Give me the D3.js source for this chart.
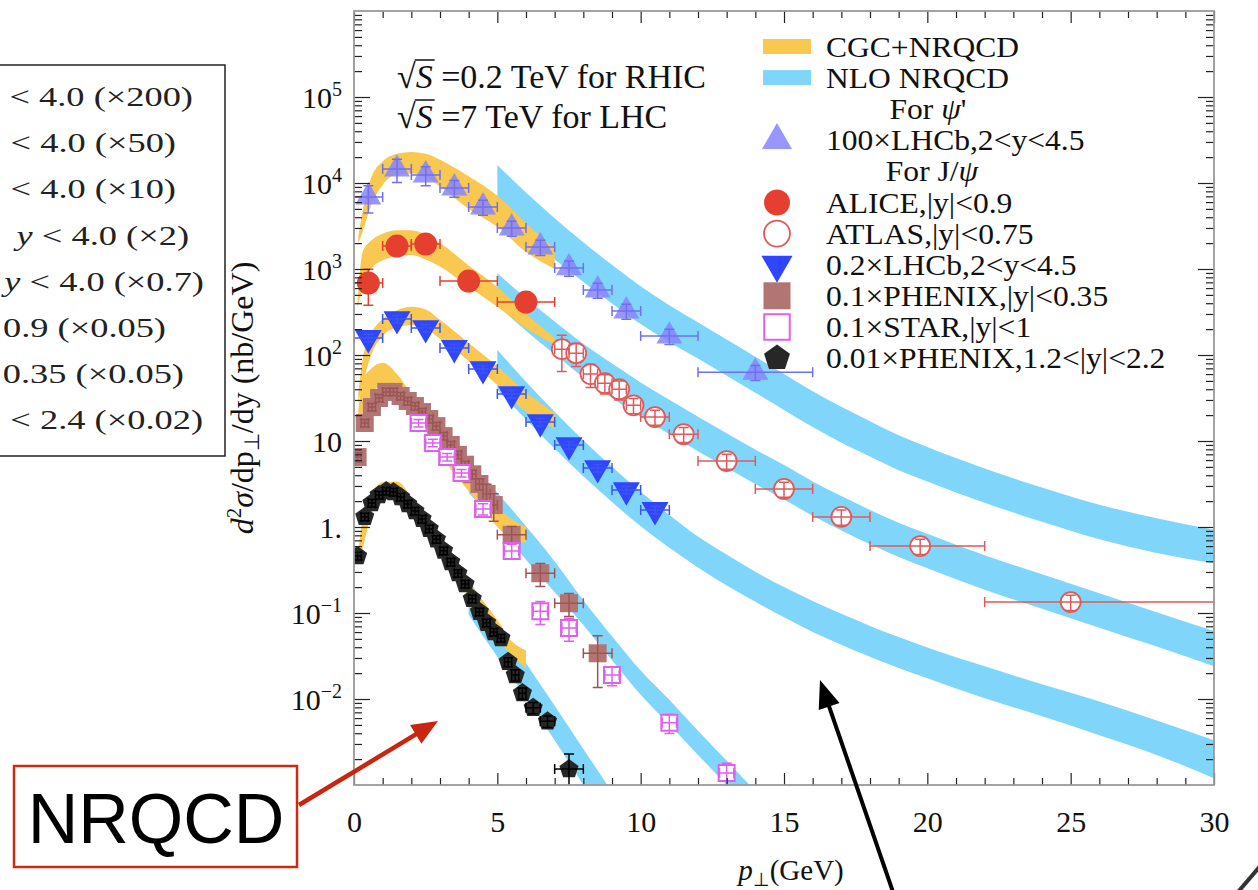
<!DOCTYPE html>
<html>
<head>
<meta charset="utf-8">
<script src="https://cdn.jsdelivr.net/npm/d3@7"></script>
<style>
  body { margin: 0; background: #fff; }
  svg { display: block; font-family: "Liberation Serif", "Times New Roman", serif; }
</style>
</head>
<body>
<div id="chart"></div>
<script>
// ---------- values ----------

// CGC+NRQCD bands (low pT): pT nodes, lower and upper edge
const cgcPsiPt = [0.15, 0.3, 0.6, 1, 1.5, 2, 2.5, 3, 4, 5, 6, 7];
const cgcPsiLo = [2000, 2700, 5500, 9500, 12600, 12900, 11700, 9100, 5000, 3100, 1580, 1000];
const cgcPsiHi = [2400, 4700, 11500, 17800, 21900, 22900, 21900, 18600, 12000, 7100, 3400, 1740];

const cgcMidPt = [0.12, 0.3, 0.6, 1, 1.5, 2, 2.5, 3, 4, 5, 6, 7];
const cgcMidLo = [355, 603, 1000, 1260, 1410, 1450, 1290, 1070, 617, 363, 204, 132];
const cgcMidHi = [417, 1580, 2140, 2570, 2820, 2820, 2510, 2000, 1100, 617, 302, 158];

const cgcFwdPt = [0.15, 0.3, 0.6, 1, 1.5, 2, 2.5, 3, 4, 5, 6, 7];
const cgcFwdLo = [28.2, 44.7, 100, 166, 209, 224, 200, 155, 85, 44.7, 21.9, 14.1];
const cgcFwdHi = [35.5, 89, 178, 263, 331, 363, 339, 257, 138, 74, 37, 21.4];

const cgcRhicMidPt = [0.15, 0.3, 0.6, 1, 1.5, 2, 2.5, 3, 3.5, 4, 4.5, 5, 5.5, 6];
const cgcRhicMidLo = [15.8, 20.0, 33.1, 45.7, 42.7, 25.1, 13.2, 7.08, 4.17, 2.63, 1.66, 1.00, 0.74, 0.65];
const cgcRhicMidHi = [22.4, 50.1, 69.2, 81.3, 60.3, 34.7, 18.6, 10.2, 6.31, 4.17, 2.51, 1.70, 1.23, 1.00];

const cgcRhicFwdPt = [0.15, 0.3, 0.6, 1, 1.5, 2, 2.5, 3, 3.5, 4, 4.5, 5, 5.5, 6];
const cgcRhicFwdLo = [0.40, 0.56, 1.41, 2.14, 2.29, 1.58, 0.95, 0.51, 0.28, 0.158, 0.091, 0.052, 0.032, 0.023];
const cgcRhicFwdHi = [0.50, 1.26, 2.34, 3.31, 3.39, 2.24, 1.32, 0.72, 0.40, 0.23, 0.138, 0.083, 0.047, 0.037];

// NLO NRQCD bands (high pT)
const nloLhcPt = [5, 6, 7, 8, 9, 10, 11, 12, 13, 14, 15, 16, 17, 18, 19, 20, 22, 24, 26, 28, 30];
const nloPsiLo = [4900, 2450, 1290, 708, 398, 229, 141, 91.2, 57.5, 36.3, 22.9, 14.5, 9.55, 6.61, 4.57, 3.39, 1.91, 1.15, 0.72, 0.50, 0.38];
const nloPsiHi = [16200, 7760, 3890, 2040, 1120, 631, 380, 240, 151, 95.5, 60.3, 38.0, 25.1, 17.0, 11.7, 8.51, 4.79, 2.88, 1.82, 1.26, 0.93];
const nloMidLo = [380, 191, 102, 55.0, 31.6, 19.1, 12.0, 7.59, 4.90, 3.16, 2.09, 1.35, 0.912, 0.631, 0.447, 0.331, 0.186, 0.112, 0.0676, 0.0407, 0.0240];
const nloMidHi = [891, 457, 245, 135, 79.4, 47.9, 30.2, 19.1, 12.3, 7.94, 5.25, 3.39, 2.29, 1.58, 1.12, 0.832, 0.468, 0.282, 0.170, 0.102, 0.0617];
const nloFwdLo = [39.8, 17.8, 8.13, 3.89, 1.95, 1.02, 0.575, 0.339, 0.209, 0.135, 0.0891, 0.0603, 0.0427, 0.0309, 0.0229, 0.0174, 0.0102, 0.00631, 0.0038, 0.00224, 0.0012];
const nloFwdHi = [115, 49.0, 21.9, 10.2, 5.01, 2.57, 1.38, 0.776, 0.479, 0.302, 0.200, 0.138, 0.0977, 0.0708, 0.0525, 0.0398, 0.0240, 0.0148, 0.00933, 0.00562, 0.00331];

const nloRhicMidPt = [4, 5, 6, 7, 8, 9, 10, 11, 12, 13, 14];
const nloRhicMidLo = [2.51, 1.05, 0.417, 0.174, 0.0724, 0.0282, 0.0112, 0.00501, 0.00224, 0.00100, 0.000447];
const nloRhicMidHi = [6.03, 2.51, 1.02, 0.398, 0.141, 0.0537, 0.0214, 0.00977, 0.00427, 0.00191, 0.000851];

const nloRhicFwdPt = [4, 5, 6, 7, 8, 9];
const nloRhicFwdLo = [0.0955, 0.0309, 0.0105, 0.00331, 0.00100, 0.000316];
const nloRhicFwdHi = [0.240, 0.0794, 0.0263, 0.00832, 0.00263, 0.000832];

// data points: pT, value, pT bin edges, relative vertical error
const psiPt   = [0.5, 1.5, 2.5, 3.5, 4.5, 5.5, 6.5, 7.5, 8.5, 9.5, 11, 14];
const psiVal  = [6870, 14500, 12400, 8750, 5260, 3000, 1800, 1030, 570, 325, 166, 63];
const psiBinLo = [0, 1, 2, 3, 4, 5, 6, 7, 8, 9, 10, 12];
const psiBinHi = [1, 2, 3, 4, 5, 6, 7, 8, 9, 10, 12, 16];
const psiErr  = [0.35, 0.3, 0.25, 0.22, 0.2, 0.2, 0.2, 0.2, 0.2, 0.2, 0.2, 0.2];

const alicePt  = [0.5, 1.5, 2.5, 4, 6];
const aliceVal = [687, 1850, 1950, 725, 413];
const aliceBinLo = [0, 1, 2, 3, 5];
const aliceBinHi = [1, 2, 3, 5, 7];
const aliceErr = [0.45, 0.1, 0.1, 0.1, 0.1];

const atlasPt  = [7.25, 7.75, 8.25, 8.75, 9.25, 9.75, 10.5, 11.5, 13, 15, 17, 19.75, 25];
const atlasVal = [117, 105, 60, 47, 40, 26, 19, 12, 5.85, 2.77, 1.31, 0.60, 0.134];
const atlasBinLo = [7, 7.5, 8, 8.5, 9, 9.5, 10, 11, 12, 14, 16, 18, 22];
const atlasBinHi = [7.5, 8, 8.5, 9, 9.5, 10, 11, 12, 14, 16, 18, 22, 30];
const atlasErr = [0.45, 0.3, 0.3, 0.25, 0.25, 0.2, 0.2, 0.2, 0.2, 0.2, 0.2, 0.2, 0.2];

const lhcbPt  = [0.5, 1.5, 2.5, 3.5, 4.5, 5.5, 6.5, 7.5, 8.5, 9.5, 10.5];
const lhcbVal = [158, 262, 206, 121, 68.7, 35.2, 16.6, 8.98, 4.85, 2.69, 1.58];
const lhcbBinLo = [0, 1, 2, 3, 4, 5, 6, 7, 8, 9, 10];
const lhcbBinHi = [1, 2, 3, 4, 5, 6, 7, 8, 9, 10, 11];
const lhcbErr = [0.1, 0.1, 0.1, 0.1, 0.1, 0.1, 0.1, 0.1, 0.1, 0.1, 0.1];

const phxMidPt  = [0.125, 0.375, 0.625, 0.875, 1.125, 1.375, 1.625, 1.875, 2.125, 2.375, 2.625, 2.875,
                   3.125, 3.375, 3.625, 3.875, 4.125, 4.375, 4.625, 4.875, 5.5, 6.5, 7.5, 8.5];
const phxMidVal = [6.5, 16.2, 24.8, 31.6, 37.2, 37.2, 33.3, 29.2, 25.5, 21.7, 18.0, 14.9,
                   11.4, 9.0, 6.9, 5.3, 4.1, 3.16, 2.42, 1.8, 0.81, 0.29, 0.13, 0.034];
const phxMidBinLo = [0, 0.25, 0.5, 0.75, 1, 1.25, 1.5, 1.75, 2, 2.25, 2.5, 2.75,
                     3, 3.25, 3.5, 3.75, 4, 4.25, 4.5, 4.75, 5, 6, 7, 8];
const phxMidBinHi = [0.25, 0.5, 0.75, 1, 1.25, 1.5, 1.75, 2, 2.25, 2.5, 2.75, 3,
                     3.25, 3.5, 3.75, 4, 4.25, 4.5, 4.75, 5, 6, 7, 8, 9];
const phxMidErr = [0.12, 0.1, 0.1, 0.1, 0.1, 0.1, 0.1, 0.1, 0.1, 0.1, 0.1, 0.1,
                   0.1, 0.1, 0.1, 0.1, 0.12, 0.15, 0.3, 0.35, 0.25, 0.3, 0.3, 0.6];

const starPt  = [2.25, 2.75, 3.25, 3.75, 4.5, 5.5, 6.5, 7.5, 9, 11, 13];
const starVal = [16.2, 9.5, 6.5, 4.25, 1.62, 0.526, 0.105, 0.067, 0.019, 0.0053, 0.00138];
const starBinLo = [2, 2.5, 3, 3.5, 4.25, 5.25, 6.25, 7.25, 8.75, 10.75, 12.75];
const starBinHi = [2.5, 3, 3.5, 4, 4.75, 5.75, 6.75, 7.75, 9.25, 11.25, 13.25];
const starErr = [0.1, 0.1, 0.1, 0.1, 0.15, 0.2, 0.3, 0.3, 0.25, 0.25, 0.3];

const phxFwdPt  = [0.125, 0.375, 0.625, 0.875, 1.125, 1.375, 1.625, 1.875, 2.125, 2.375, 2.625, 2.875,
                   3.125, 3.375, 3.625, 3.875, 4.125, 4.375, 4.625, 4.875, 5.125, 5.375, 5.625, 5.875,
                   6.25, 6.75, 7.5];
const phxFwdVal = [0.46, 1.31, 1.90, 2.35, 2.62, 2.55, 2.23, 1.85, 1.53, 1.24, 0.95, 0.72,
                   0.53, 0.39, 0.29, 0.217, 0.146, 0.103, 0.077, 0.060, 0.051, 0.027, 0.019, 0.0117,
                   0.0079, 0.0055, 0.00153];
const phxFwdBinLo = [0, 0.25, 0.5, 0.75, 1, 1.25, 1.5, 1.75, 2, 2.25, 2.5, 2.75,
                     3, 3.25, 3.5, 3.75, 4, 4.25, 4.5, 4.75, 5, 5.25, 5.5, 5.75, 6, 6.5, 7];
const phxFwdBinHi = [0.25, 0.5, 0.75, 1, 1.25, 1.5, 1.75, 2, 2.25, 2.5, 2.75, 3,
                     3.25, 3.5, 3.75, 4, 4.25, 4.5, 4.75, 5, 5.25, 5.5, 5.75, 6, 6.5, 7, 8];
const phxFwdErr = [0.1, 0.1, 0.1, 0.1, 0.1, 0.1, 0.1, 0.1, 0.1, 0.1, 0.1, 0.1,
                   0.1, 0.1, 0.1, 0.1, 0.1, 0.1, 0.1, 0.1, 0.1, 0.12, 0.15, 0.15,
                   0.15, 0.15, 0.5];

// axes ticks
const xMajor = [0, 5, 10, 15, 20, 25, 30];
const yMajor = [1e-2, 1e-1, 1, 10, 1e2, 1e3, 1e4, 1e5];

// left (cut-off) box lines
const boxLines = ["< 4.0 (×200)", "< 4.0 (×50)", "< 4.0 (×10)", "y < 4.0 (×2)",
                  "y < 4.0 (×0.7)", "0.9 (×0.05)", "0.35 (×0.05)", "< 2.4 (×0.02)"];
const boxLineEnds = [193, 176, 176, 189, 204, 166, 184, 203];

// ---------- chart ----------
const orange = "#f8c850";
const blue = "#80d6fa";

const svg = d3.select("#chart").append("svg")
  .attr("width", 1258)
  .attr("height", 890);

const plot = {left: 354, right: 1214, top: 11, bottom: 785};

const x = d3.scaleLinear().domain([0, 30]).range([plot.left, plot.right]);
const y = d3.scaleLog().domain([1e-3, 1e6]).range([plot.bottom, plot.top]);

svg.append("clipPath").attr("id", "clip").append("rect")
  .attr("x", plot.left).attr("y", plot.top)
  .attr("width", plot.right - plot.left)
  .attr("height", plot.bottom - plot.top);

const bandLayer = svg.append("g").attr("clip-path", "url(#clip)");

const area = d3.area()
  .x(d => x(d.p))
  .y0(d => y(d.lo))
  .y1(d => y(d.hi))
  .curve(d3.curveMonotoneX);

function band(pt, lo, hi, color) {
  const rows = pt.map((p, i) => ({p, lo: lo[i], hi: hi[i]}));
  bandLayer.append("path").datum(rows)
    .attr("fill", color)
    .attr("d", area);
}

// NLO first, CGC drawn on top
band(nloLhcPt, nloPsiLo, nloPsiHi, blue);
band(nloLhcPt, nloMidLo, nloMidHi, blue);
band(nloLhcPt, nloFwdLo, nloFwdHi, blue);
band(nloRhicMidPt, nloRhicMidLo, nloRhicMidHi, blue);
band(nloRhicFwdPt, nloRhicFwdLo, nloRhicFwdHi, blue);

band(cgcPsiPt, cgcPsiLo, cgcPsiHi, orange);
band(cgcMidPt, cgcMidLo, cgcMidHi, orange);
band(cgcFwdPt, cgcFwdLo, cgcFwdHi, orange);
band(cgcRhicMidPt, cgcRhicMidLo, cgcRhicMidHi, orange);
band(cgcRhicFwdPt, cgcRhicFwdLo, cgcRhicFwdHi, orange);

// pentagon marker
const pentagon = {
  draw(ctx, size) {
    const r = Math.sqrt(size / 2.3776);
    for (let i = 0; i < 5; i++) {
      const a = -Math.PI / 2 + i * 2 * Math.PI / 5;
      if (i === 0) ctx.moveTo(r * Math.cos(a), r * Math.sin(a));
      else ctx.lineTo(r * Math.cos(a), r * Math.sin(a));
    }
    ctx.closePath();
  }
};

const series = [
  {key: "phxFwd", pt: phxFwdPt, val: phxFwdVal, lo: phxFwdBinLo, hi: phxFwdBinHi, err: phxFwdErr,
   sym: pentagon, size: 240, legSize: 440, fill: "#272727", bar: "#000"},
  {key: "phxMid", pt: phxMidPt, val: phxMidVal, lo: phxMidBinLo, hi: phxMidBinHi, err: phxMidErr,
   sym: d3.symbolSquare, size: 324, legSize: 729, fill: "#b37474", bar: "#9c5555"},
  {key: "star", pt: starPt, val: starVal, lo: starBinLo, hi: starBinHi, err: starErr,
   sym: d3.symbolSquare, size: 256, legSize: 650, fill: "#fff", stroke: "#e05ff0", sw: 2, bar: "#e05ff0"},
  {key: "lhcb", pt: lhcbPt, val: lhcbVal, lo: lhcbBinLo, hi: lhcbBinHi, err: lhcbErr,
   sym: d3.symbolTriangle, flip: true, size: 316, legSize: 420, fill: "#3045ff", bar: "#3a55f0"},
  {key: "atlas", pt: atlasPt, val: atlasVal, lo: atlasBinLo, hi: atlasBinHi, err: atlasErr,
   sym: d3.symbolCircle, size: 314, legSize: 530, fill: "#fff", stroke: "#e05a5a", sw: 1.8, bar: "#e05a5a"},
  {key: "alice", pt: alicePt, val: aliceVal, lo: aliceBinLo, hi: aliceBinHi, err: aliceErr,
   sym: d3.symbolCircle, size: 415, legSize: 530, fill: "#e5402f", bar: "#e5402f"},
  {key: "psi", pt: psiPt, val: psiVal, lo: psiBinLo, hi: psiBinHi, err: psiErr,
   sym: d3.symbolTriangle, size: 290, legSize: 390, fill: "#8585ff", opacity: 0.85, bar: "#7070ee"}
];

const pointLayer = svg.append("g").attr("clip-path", "url(#clip)");

series.forEach(s => {
  const rows = s.pt.map((p, i) => ({p, v: s.val[i], xl: s.lo[i], xh: s.hi[i], e: s.err[i]}));
  const g = pointLayer.append("g");

  g.selectAll("path.mark")
    .data(rows)
    .join("path")
    .attr("class", "mark")
    .attr("transform", d => `translate(${x(d.p)},${y(d.v)})` + (s.flip ? " rotate(180)" : ""))
    .attr("d", d3.symbol(s.sym, s.size))
    .attr("fill", s.fill)
    .attr("fill-opacity", s.opacity || 1)
    .attr("stroke", s.stroke || "none")
    .attr("stroke-width", s.sw || 0);

  // error bars with caps
  const c = 5;
  g.selectAll("path.bar")
    .data(rows)
    .join("path")
    .attr("class", "bar")
    .attr("fill", "none")
    .attr("stroke", s.bar)
    .attr("stroke-width", 1.5)
    .attr("d", d => {
      const cx = x(d.p), cy = y(d.v);
      const xl = x(d.xl), xh = x(d.xh);
      const yl = y(d.v * (1 - d.e)), yh = y(d.v * (1 + d.e));
      return `M${xl},${cy}H${xh}M${xl},${cy - c}V${cy + c}M${xh},${cy - c}V${cy + c}` +
             `M${cx},${yl}V${yh}M${cx - c},${yl}H${cx + c}M${cx - c},${yh}H${cx + c}`;
    });
});

// ---------- frame and ticks ----------
const tickColor = "#222";

function styleAxis(g) {
  g.select(".domain").remove();
  g.selectAll(".tick line").attr("stroke", tickColor).attr("stroke-width", 1.2);
}

const yMinor = d3.range(-3, 6).flatMap(e => d3.range(2, 10).map(k => k * Math.pow(10, e)));
const xMinor = d3.range(0, 31).filter(v => v % 5 !== 0);

// left
svg.append("g").attr("transform", `translate(${plot.left},0)`)
  .call(d3.axisLeft(y).tickValues(yMinor).tickSize(-8).tickFormat(""))
  .call(styleAxis);
const yAxis = svg.append("g").attr("transform", `translate(${plot.left},0)`)
  .call(d3.axisLeft(y).tickValues(yMajor).tickSize(-16).tickPadding(12).tickFormat(""))
  .call(styleAxis);
// right
svg.append("g").attr("transform", `translate(${plot.right},0)`)
  .call(d3.axisRight(y).tickValues(yMinor).tickSize(-8).tickFormat(""))
  .call(styleAxis);
svg.append("g").attr("transform", `translate(${plot.right},0)`)
  .call(d3.axisRight(y).tickValues(yMajor).tickSize(-16).tickFormat(""))
  .call(styleAxis);
// bottom
svg.append("g").attr("transform", `translate(0,${plot.bottom})`)
  .call(d3.axisBottom(x).tickValues(xMinor).tickSize(-7).tickFormat(""))
  .call(styleAxis);
const xAxis = svg.append("g").attr("transform", `translate(0,${plot.bottom})`)
  .call(d3.axisBottom(x).tickValues(xMajor).tickSize(-12).tickPadding(26).tickFormat(d3.format("d")))
  .call(styleAxis);
// top
svg.append("g").attr("transform", `translate(0,${plot.top})`)
  .call(d3.axisTop(x).tickValues(xMinor).tickSize(-7).tickFormat(""))
  .call(styleAxis);
svg.append("g").attr("transform", `translate(0,${plot.top})`)
  .call(d3.axisTop(x).tickValues(xMajor).tickSize(-12).tickFormat(""))
  .call(styleAxis);

svg.append("rect")
  .attr("x", plot.left).attr("y", plot.top)
  .attr("width", plot.right - plot.left)
  .attr("height", plot.bottom - plot.top)
  .attr("fill", "none")
  .attr("stroke", "#999")
  .attr("stroke-width", 1.8);

xAxis.selectAll(".tick text")
  .attr("font-family", "Liberation Serif, serif")
  .attr("font-size", 30)
  .attr("fill", "#111");

// y tick labels with powers of ten
yAxis.selectAll(".tick").each(function(v) {
  const e = Math.round(Math.log10(v));
  const t = d3.select(this).select("text")
    .attr("font-family", "Liberation Serif, serif")
    .attr("font-size", 30)
    .attr("fill", "#111")
    .attr("dy", "0.34em")
    .text(null);
  if (e === 0) { t.text("1."); return; }
  t.append("tspan").text("10");
  if (e !== 1) {
    t.append("tspan").attr("dy", -12).attr("font-size", 20)
      .text(e < 0 ? "\u2212" + (-e) : e);
  }
});

// axis titles
const yTitle = svg.append("text")
  .attr("transform", "translate(253,398) rotate(-90)")
  .attr("text-anchor", "middle")
  .attr("font-size", 32)
  .attr("fill", "#111");
yTitle.append("tspan").attr("font-style", "italic").text("d");
yTitle.append("tspan").attr("dy", -12).attr("font-size", 21).text("2");
yTitle.append("tspan").attr("dy", 12).attr("font-style", "italic").text("σ");
yTitle.append("tspan").text("/dp");
yTitle.append("tspan").attr("dy", 6).attr("font-size", 21).text("⊥");
yTitle.append("tspan").attr("dy", -6).text("/dy (nb/GeV)");

const xTitle = svg.append("text")
  .attr("x", 791).attr("y", 880)
  .attr("text-anchor", "middle")
  .attr("font-size", 29)
  .attr("fill", "#111");
xTitle.append("tspan").attr("font-style", "italic").text("p");
xTitle.append("tspan").attr("dy", 6).attr("font-size", 19).text("⊥");
xTitle.append("tspan").attr("dy", -6).text("(GeV)");

// energies
function rootS(yBase, rest) {
  const t = svg.append("text").attr("x", 397).attr("y", yBase)
    .attr("font-size", 34).attr("fill", "#111");
  t.append("tspan").text("√");
  t.append("tspan").attr("font-style", "italic").text("S");
  t.append("tspan").text(" " + rest);
  const r = t.node().getExtentOfChar(0);
  const s = t.node().getExtentOfChar(1);
  svg.append("line")
    .attr("x1", r.x + r.width - 1).attr("x2", s.x + s.width + 2)
    .attr("y1", r.y + 2).attr("y2", r.y + 2)
    .attr("stroke", "#111").attr("stroke-width", 1.5);
}
rootS(88, "=0.2 TeV for RHIC");
rootS(128, "=7 TeV for LHC");

// ---------- legend ----------
const legX = 777, legTextX = 826, legTop = 57, legStep = 31.1;
const legendRows = [
  {swatch: orange, label: [["CGC+NRQCD"]]},
  {swatch: blue, label: [["NLO NRQCD"]]},
  {header: true, label: [["For "], ["ψ", "italic"], ["'"]], cx: 928},
  {series: "psi", label: [["100×LHCb,2<y<4.5"]]},
  {header: true, label: [["For J/"], ["ψ", "italic"]], cx: 932},
  {series: "alice", label: [["ALICE,|y|<0.9"]]},
  {series: "atlas", label: [["ATLAS,|y|<0.75"]]},
  {series: "lhcb", label: [["0.2×LHCb,2<y<4.5"]]},
  {series: "phxMid", label: [["0.1×PHENIX,|y|<0.35"]]},
  {series: "star", label: [["0.1×STAR,|y|<1"]]},
  {series: "phxFwd", label: [["0.01×PHENIX,1.2<|y|<2.2"]]}
];

const legend = svg.append("g");
legendRows.forEach((row, i) => {
  const base = legTop + i * legStep;
  if (row.swatch) {
    legend.append("rect")
      .attr("x", 763).attr("y", base - 18)
      .attr("width", 48).attr("height", 15)
      .attr("fill", row.swatch);
  }
  if (row.series) {
    const s = series.find(d => d.key === row.series);
    legend.append("path")
      .attr("transform", `translate(${legX},${base - 10})` + (s.flip ? " rotate(180)" : ""))
      .attr("d", d3.symbol(s.sym, s.legSize))
      .attr("fill", s.fill)
      .attr("fill-opacity", s.opacity || 1)
      .attr("stroke", s.stroke || "none")
      .attr("stroke-width", s.sw || 0);
  }
  const t = legend.append("text")
    .attr("transform", `translate(${row.header ? row.cx : legTextX},${base}) scale(1.07,1)`)
    .attr("text-anchor", row.header ? "middle" : "start")
    .attr("font-size", 29.5)
    .attr("fill", "#111");
  row.label.forEach(([txt, style]) => {
    t.append("tspan").attr("font-style", style || null).text(txt);
  });
});

// ---------- left cut-off box ----------
svg.append("rect")
  .attr("x", -10).attr("y", 65)
  .attr("width", 235).attr("height", 391)
  .attr("fill", "none")
  .attr("stroke", "#222")
  .attr("stroke-width", 1.5);

boxLines.forEach((line, i) => {
  const t = svg.append("text")
    .attr("transform", `translate(${boxLineEnds[i]},${106 + i * 46.2}) scale(1.3,1)`)
    .attr("text-anchor", "end")
    .attr("font-size", 28)
    .attr("fill", "#222");
  if (line.startsWith("y ")) {
    t.append("tspan").attr("font-style", "italic").text("y");
    t.append("tspan").text(line.slice(1));
  } else {
    t.text(line);
  }
});

// ---------- annotations ----------
function arrow(x1, y1, x2, y2, color, width, headLen, headHalf) {
  const dx = x2 - x1, dy = y2 - y1, len = Math.hypot(dx, dy);
  const ux = dx / len, uy = dy / len;
  const bx = x2 - ux * headLen, by = y2 - uy * headLen;
  svg.append("line")
    .attr("x1", x1).attr("y1", y1).attr("x2", bx + ux * 2).attr("y2", by + uy * 2)
    .attr("stroke", color).attr("stroke-width", width);
  svg.append("path")
    .attr("d", `M${x2},${y2}L${bx - uy * headHalf},${by + ux * headHalf}L${bx + uy * headHalf},${by - ux * headHalf}Z`)
    .attr("fill", color);
}

svg.append("rect")
  .attr("x", 14).attr("y", 766)
  .attr("width", 283).attr("height", 101)
  .attr("fill", "#fff")
  .attr("stroke", "#cc2a12")
  .attr("stroke-width", 2.5);
svg.append("text")
  .attr("x", 156).attr("y", 843)
  .attr("text-anchor", "middle")
  .attr("font-family", "Liberation Sans, Arial, sans-serif")
  .attr("font-size", 70)
  .attr("fill", "#000")
  .text("NRQCD");

arrow(299, 805, 438, 721, "#c8260e", 4.5, 26, 11);
arrow(893, 892, 820, 680, "#000", 4, 28, 11);

svg.append("line")
  .attr("x1", 1238).attr("y1", 892).attr("x2", 1262).attr("y2", 864)
  .attr("stroke", "#333").attr("stroke-width", 4);
</script>
</body>
</html>
